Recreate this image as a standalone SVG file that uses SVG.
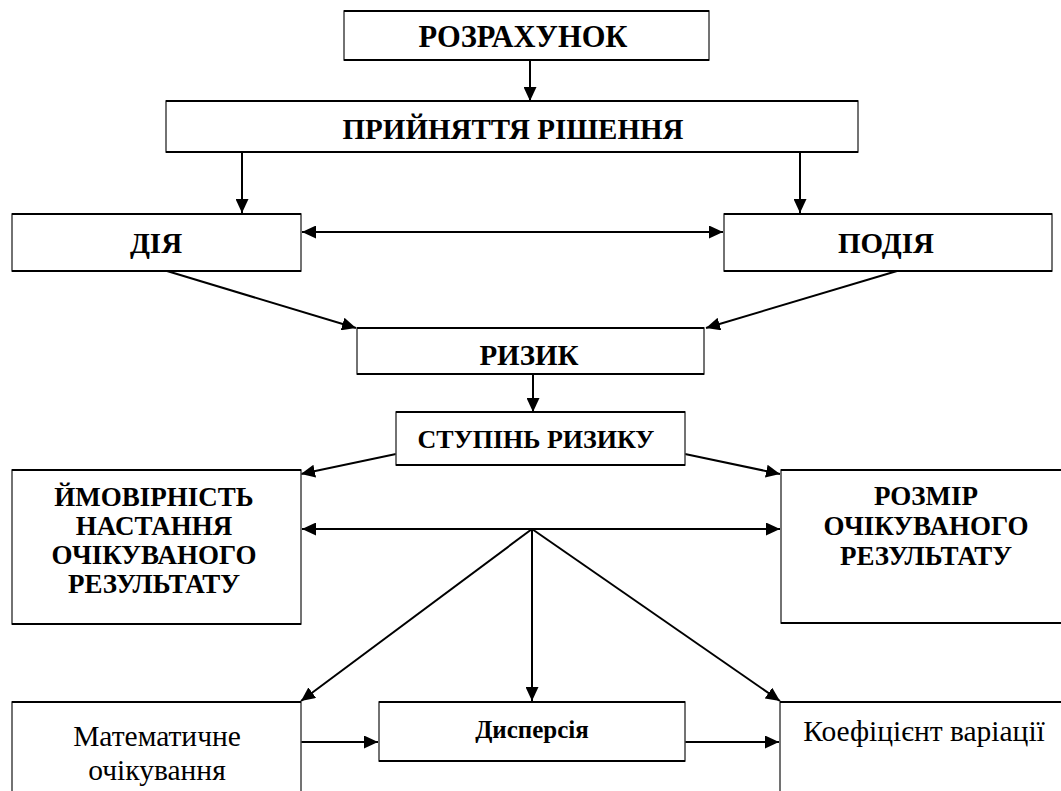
<svg xmlns="http://www.w3.org/2000/svg" width="1061" height="791" viewBox="0 0 1061 791">
  <style>
    .box { fill: #fff; stroke: #444; stroke-width: 1.5; }
    .edge { fill: none; stroke: #000; stroke-width: 2.2; }
    text { font-family: 'Liberation Serif', 'DejaVu Serif', serif; fill: #000; text-anchor: middle; }
    .hd { font-weight: bold; font-size: 29px; }
    .hd2 { font-weight: bold; font-size: 27px; }
    .rg { font-size: 29.5px; }
    .sm { font-weight: bold; font-size: 25px; }
    .cn { fill: none; stroke: #000; stroke-width: 2; }
  </style>
  <defs>
    <!-- filled triangular arrowhead shared by every connector -->
    <marker id="ah" viewBox="0 0 14 13" refX="14" refY="6.5" markerWidth="14" markerHeight="13" markerUnits="userSpaceOnUse" orient="auto-start-reverse">
      <path d="M0,0 L14,6.5 L0,13 Z" fill="#000"/>
    </marker>
  </defs>
  <rect width="1061" height="791" fill="#fff"/>

  <g id="connectors">
    <line class="cn" x1="530" y1="60" x2="530" y2="101" marker-end="url(#ah)"/>
    <line class="cn" x1="242" y1="152" x2="242" y2="213" marker-end="url(#ah)"/>
    <line class="cn" x1="800" y1="152" x2="800" y2="213" marker-end="url(#ah)"/>
    <line class="cn" x1="302" y1="232" x2="723" y2="232" marker-start="url(#ah)" marker-end="url(#ah)"/>
    <line class="cn" x1="167" y1="271" x2="356" y2="328" marker-end="url(#ah)"/>
    <line class="cn" x1="897" y1="271" x2="706" y2="328" marker-end="url(#ah)"/>
    <line class="cn" x1="533" y1="374" x2="533" y2="412" marker-end="url(#ah)"/>
    <line class="cn" x1="396" y1="454" x2="301" y2="474" marker-end="url(#ah)"/>
    <line class="cn" x1="685" y1="454" x2="780" y2="474" marker-end="url(#ah)"/>
    <line class="cn" x1="302" y1="529" x2="780" y2="529" marker-start="url(#ah)" marker-end="url(#ah)"/>
    <line class="cn" x1="532" y1="529" x2="301" y2="701" marker-end="url(#ah)"/>
    <line class="cn" x1="532" y1="529" x2="532" y2="701" marker-end="url(#ah)"/>
    <line class="cn" x1="532" y1="529" x2="780" y2="701" marker-end="url(#ah)"/>
    <line class="cn" x1="301" y1="742" x2="378" y2="742" marker-end="url(#ah)"/>
    <line class="cn" x1="685" y1="742" x2="779" y2="742" marker-end="url(#ah)"/>
  </g>

  <g id="rozrakhunok">
    <rect class="box" x="344" y="11" width="365" height="49"/>
    <path class="edge" d="M344,11 H709 M344,60 H709"/>
    <text class="hd" x="523" y="47" style="font-size:30.5px">РОЗРАХУНОК</text>
  </g>

  <g id="pryiniattia">
    <rect class="box" x="166" y="101" width="692" height="51"/>
    <path class="edge" d="M166,101 H858 M166,152 H858"/>
    <text class="hd" x="513" y="139">ПРИЙНЯТТЯ РІШЕННЯ</text>
  </g>

  <g id="diia">
    <rect class="box" x="12" y="214" width="289" height="57"/>
    <path class="edge" d="M12,214 H301 M12,271 H301"/>
    <text class="hd" x="156" y="253">ДІЯ</text>
  </g>

  <g id="podiia">
    <rect class="box" x="724" y="214" width="328" height="57"/>
    <path class="edge" d="M724,214 H1052 M724,271 H1052"/>
    <text class="hd" x="886" y="253">ПОДІЯ</text>
  </g>

  <g id="ryzyk">
    <rect class="box" x="357" y="328" width="347" height="46"/>
    <path class="edge" d="M357,328 H704 M357,374 H704"/>
    <text class="hd" x="529" y="365">РИЗИК</text>
  </g>

  <g id="stupin">
    <rect class="box" x="396" y="412" width="289" height="53"/>
    <path class="edge" d="M396,412 H685 M396,465 H685"/>
    <text class="hd" x="536" y="448" style="font-size:26px">СТУПІНЬ РИЗИКУ</text>
  </g>

  <g id="imovirnist">
    <rect class="box" x="12" y="470" width="289" height="154"/>
    <path class="edge" d="M12,470 H301 M12,624 H301"/>
    <text class="hd2" x="154" y="506">ЙМОВІРНІСТЬ</text>
    <text class="hd2" x="154" y="535">НАСТАННЯ</text>
    <text class="hd2" x="154" y="564">ОЧІКУВАНОГО</text>
    <text class="hd2" x="154" y="593">РЕЗУЛЬТАТУ</text>
  </g>

  <g id="rozmir">
    <rect class="box" x="781" y="470" width="285" height="153"/>
    <path class="edge" d="M781,470 H1066 M781,623 H1066"/>
    <text class="hd2" x="926" y="505">РОЗМІР</text>
    <text class="hd2" x="926" y="535">ОЧІКУВАНОГО</text>
    <text class="hd2" x="926" y="565">РЕЗУЛЬТАТУ</text>
  </g>

  <g id="matematychne">
    <rect class="box" x="12" y="702" width="289" height="100"/>
    <path class="edge" d="M12,702 H301"/>
    <text class="rg" x="157" y="746">Математичне</text>
    <text class="rg" x="157" y="780">очікування</text>
  </g>

  <g id="dyspersiia">
    <rect class="box" x="379" y="702" width="306" height="59"/>
    <path class="edge" d="M379,702 H685 M379,761 H685"/>
    <text class="sm" x="532" y="738">Дисперсія</text>
  </g>

  <g id="koefitsiient">
    <rect class="box" x="780" y="702" width="290" height="100"/>
    <path class="edge" d="M780,702 H1066"/>
    <text class="rg" x="924" y="741">Коефіцієнт варіації</text>
  </g>
</svg>
